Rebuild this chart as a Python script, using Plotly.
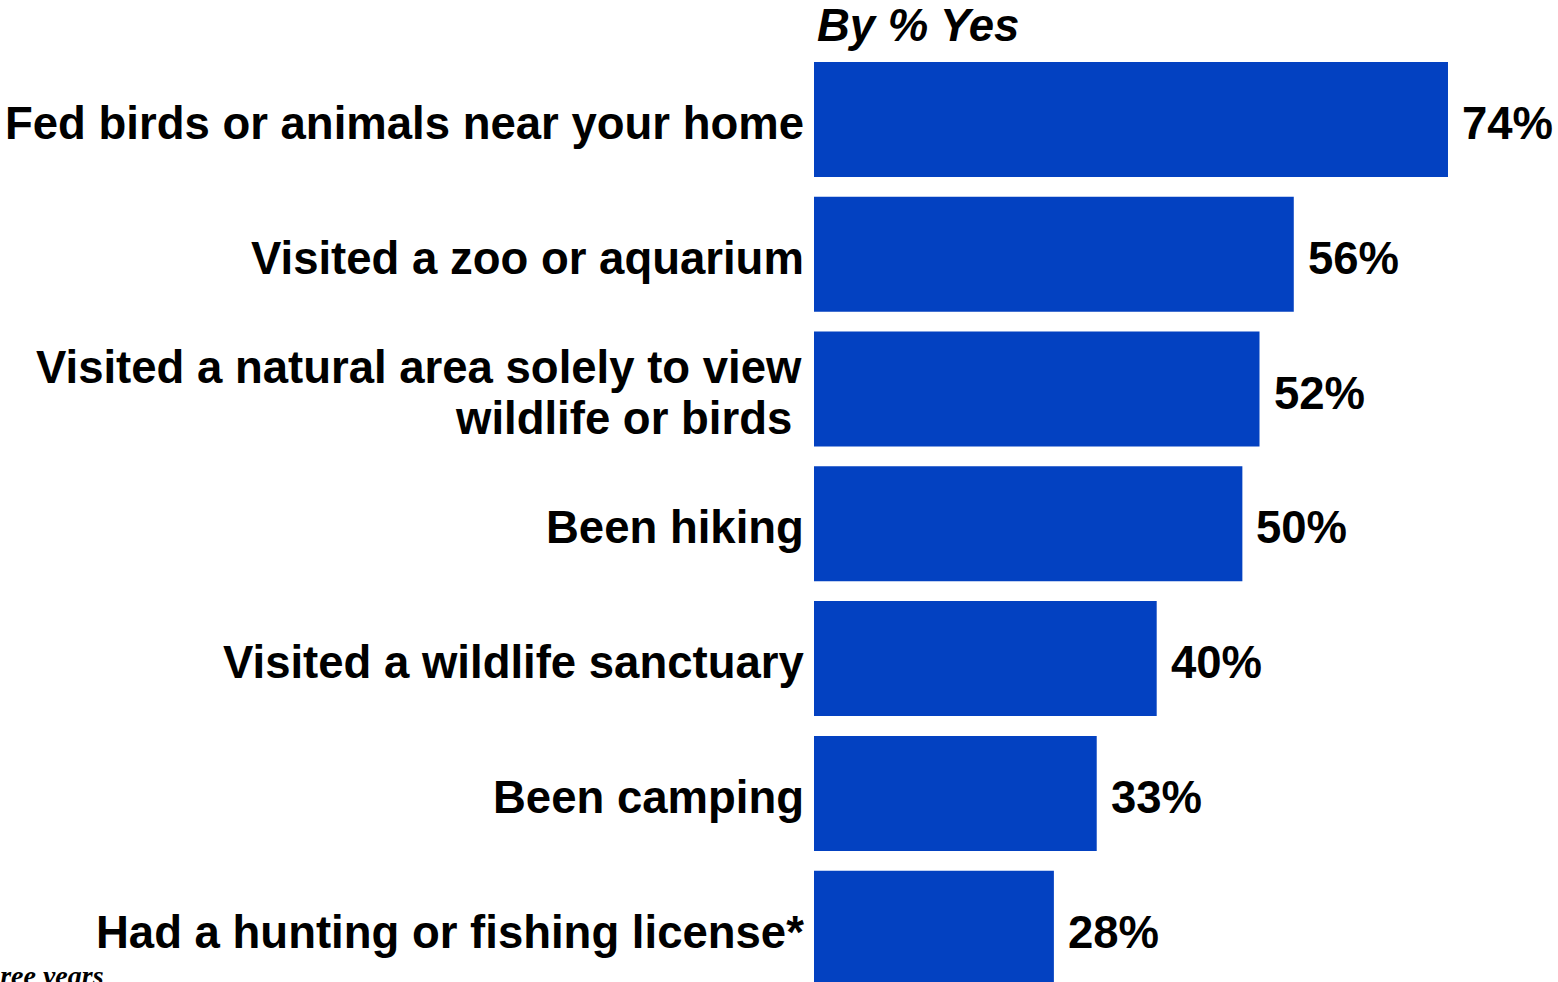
import plotly.graph_objects as go

categories = [
    "Fed birds or animals near your home",
    "Visited a zoo or aquarium",
    "Visited a natural area solely to view<br>wildlife or birds",
    "Been hiking",
    "Visited a wildlife sanctuary",
    "Been camping",
    "Had a hunting or fishing license*",
]
values = [74, 56, 52, 50, 40, 33, 28]
value_labels = ["74%", "56%", "52%", "50%", "40%", "33%", "28%"]

BAR_COLOR = "#0341C1"
FONT = "Liberation Sans, Arial, sans-serif"
SERIF = "Liberation Serif, Times New Roman, serif"
FS = 45.5

fig = go.Figure()
fig.add_trace(go.Bar(
    x=values, y=categories, orientation="h",
    marker=dict(color=BAR_COLOR, line=dict(width=0)),
    hoverinfo="skip",
))

annotations = []
for cat, v, lab in zip(categories, values, value_labels):
    if "<br>" in cat:
        l1, l2 = cat.split("<br>")
        annotations.append(dict(x=0, y=cat, xref="x", yref="y", text=f"<b>{l1}</b>",
                                xanchor="right", yanchor="middle", xshift=-10, yshift=22,
                                showarrow=False, font=dict(family=FONT, size=FS, color="black")))
        annotations.append(dict(x=0, y=cat, xref="x", yref="y", text=f"<b>{l2}</b>",
                                xanchor="right", yanchor="middle", xshift=-20, yshift=-29,
                                showarrow=False, font=dict(family=FONT, size=FS, color="black")))
    else:
        annotations.append(dict(x=0, y=cat, xref="x", yref="y", text=f"<b>{cat}</b>",
                                xanchor="right", yanchor="middle", xshift=-8, yshift=-4,
                                showarrow=False, font=dict(family=FONT, size=FS, color="black")))
    annotations.append(dict(x=v, y=cat, xref="x", yref="y", text=f"<b>{lab}</b>",
                            xanchor="left", yanchor="middle", xshift=12, yshift=-4,
                            showarrow=False, font=dict(family=FONT, size=FS, color="black")))

annotations.append(dict(x=0, y=1, xref="paper", yref="paper", xshift=1, yshift=54,
                        text="<b><i>By % Yes</i></b>", xanchor="left", yanchor="top",
                        showarrow=False, font=dict(family=FONT, size=FS, color="black")))
annotations.append(dict(x=0, y=0, xref="paper", yref="paper", xshift=-708,
                        text="<b><i>*Within the past three years</i></b>",
                        xanchor="right", yanchor="middle", yshift=7,
                        showarrow=False, font=dict(family=SERIF, size=28, color="black")))

fig.update_layout(
    width=1558, height=982,
    margin=dict(l=814, r=0, t=52, b=0, pad=0),
    paper_bgcolor="white", plot_bgcolor="white",
    bargap=0.147,
    showlegend=False,
    annotations=annotations,
)
fig.update_xaxes(range=[0, 86.84], showgrid=False, zeroline=False, showticklabels=False,
                 showline=False, ticks="")
fig.update_yaxes(type="category", range=[6.399, -0.5], showgrid=False, zeroline=False,
                 showticklabels=False, showline=False, ticks="")

fig.write_html("out.html", config={"displayModeBar": False})
